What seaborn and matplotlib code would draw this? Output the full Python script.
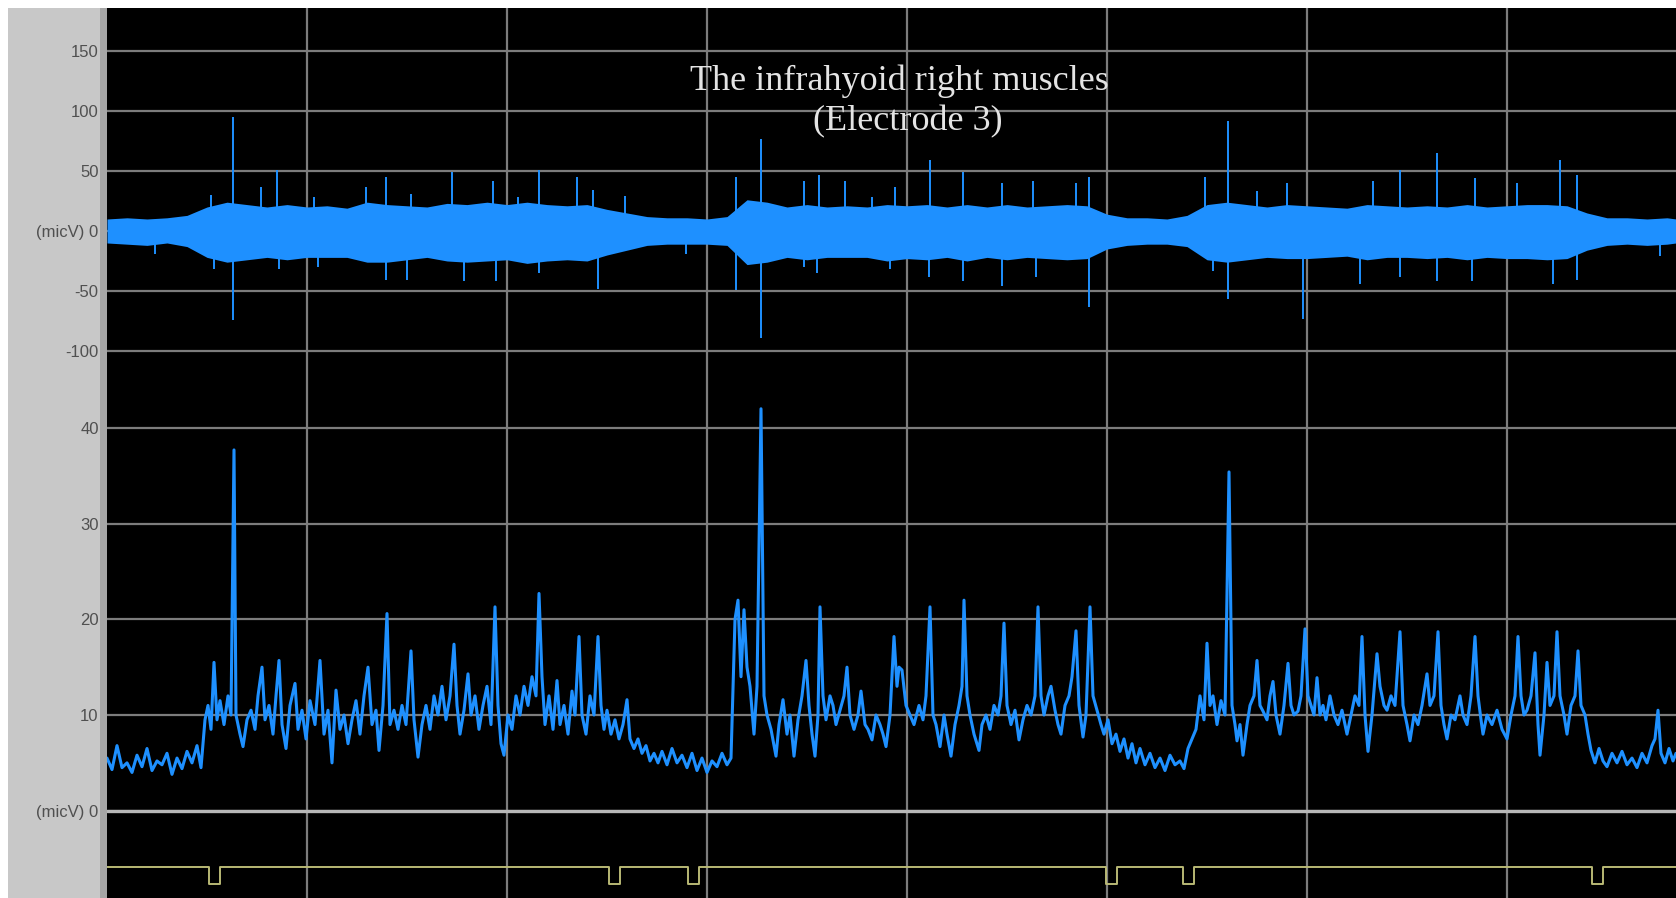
import numpy as np
import pandas as pd
import matplotlib
matplotlib.use("Agg")
import matplotlib.pyplot as plt
from matplotlib.patches import Rectangle
from matplotlib.ticker import MultipleLocator
import seaborn as sns

sns.set_style("dark")
plt.rcParams['font.family'] = ['Liberation Sans', 'DejaVu Sans']

# ---------------- data (time in ms, 200 ms per grid division) ----------------
title_lines = ["The infrahyoid right muscles", "(Electrode 3)"]

# raw EMG (upper panel): band envelope every 20 ms
raw_env_t = list(range(0, 1561, 20)) + [1569]
raw_env_hi = [10, 11, 10, 11, 13, 20, 24, 22, 20, 22,
              20, 21, 19, 24, 22, 21, 20, 23, 22, 24,
              22, 24, 22, 21, 22, 18, 15, 12, 11, 11,
              10, 12, 26, 24, 20, 22, 20, 21, 20, 22,
              21, 22, 20, 22, 20, 22, 20, 21, 22, 21,
              14, 11, 11, 10, 13, 22, 24, 22, 20, 22,
              21, 20, 19, 22, 21, 20, 21, 20, 22, 20,
              21, 22, 22, 21, 15, 11, 11, 10, 11, 10]
raw_env_lo = [-10, -11, -12, -10, -13, -22, -26, -24, -22, -24,
              -22, -22, -22, -26, -26, -24, -22, -25, -26, -25,
              -24, -27, -25, -24, -25, -20, -16, -12, -11, -11,
              -11, -12, -28, -26, -22, -24, -22, -22, -22, -25,
              -23, -24, -22, -25, -22, -24, -22, -23, -24, -23,
              -15, -12, -11, -11, -13, -24, -26, -24, -22, -23,
              -23, -22, -21, -24, -22, -22, -23, -22, -24, -22,
              -23, -23, -24, -23, -16, -12, -11, -12, -11, -10]

# raw EMG spikes: time, top, bottom
spike_t = [48, 104, 107, 126, 154, 170, 172, 207, 211, 259, 279, 300, 304, 345, 357,
           386, 389, 411, 432, 470, 486, 491, 518, 579, 629, 654, 697, 710, 712, 738,
           765, 783, 788, 822, 823, 856, 895, 926, 929, 969, 982, 1098, 1106, 1121,
           1150, 1180, 1196, 1253, 1266, 1293, 1330, 1365, 1368, 1410, 1446, 1453,
           1470, 1553]
spike_hi = [0, 30, 0, 95, 37, 51, 0, 28, 0, 37, 45, 0, 31, 49, 0,
            42, 0, 28, 51, 45, 34, 0, 29, 0, 45, 77, 42, 0, 47, 42,
            28, 0, 37, 0, 59, 49, 40, 42, 0, 40, 45, 45, 0, 92,
            33, 40, 0, 0, 42, 51, 65, 0, 44, 40, 0, 59,
            47, 0]
spike_lo = [-19, 0, -32, -74, 0, 0, -32, 0, -30, 0, -41, -41, 0, 0, -42,
            0, -42, 0, -35, 0, 0, -48, 0, -19, -49, -89, -30, -35, 0, 0,
            0, -32, 0, -38, 0, -42, -46, 0, -38, 0, -63, 0, -33, -57,
            0, 0, -73, -44, 0, -38, -42, -42, 0, 0, -44, 0,
            -41, -21]

# rectified / smoothed EMG (lower panel)
rect_t = [0, 5, 10, 15, 20, 25, 30, 35, 40, 45, 50, 55, 60, 65, 70, 75, 80, 85, 90, 94,
          98, 101, 104, 107, 110, 113, 117, 121, 124, 127, 129, 133, 136, 140, 144, 148,
          151, 155, 158, 162, 166, 169, 172, 175, 179, 183, 188, 191, 195, 199, 203, 208,
          213, 217, 221, 225, 229, 233, 237, 241, 245, 249, 253, 257, 261, 265, 269, 272,
          276, 280, 283, 287, 291, 295, 299, 304, 307, 311, 315, 319, 323, 327, 331, 335,
          339, 343, 347, 350, 353, 357, 361, 364, 368, 372, 376, 380, 384, 388, 391, 394,
          397, 401, 405, 409, 413, 417, 421, 425, 429, 432, 435, 438, 442, 446, 450, 453,
          457, 461, 465, 468, 472, 475, 479, 483, 487, 491, 494, 497, 500, 504, 508, 512,
          516, 520, 523, 527, 531, 535, 539, 543, 547, 551,
          555, 560, 565, 570, 575, 580, 585, 590, 595, 600, 605, 610, 615, 620, 624,
          628, 631, 634, 637, 640, 643, 647, 650, 654, 657, 660, 664, 669, 672, 676, 680,
          683, 687, 691, 695, 699, 702, 705, 708, 711, 713, 716, 719, 723, 726, 729, 733,
          737, 740, 743, 747, 751, 754, 758, 761, 765, 769, 773, 776, 779, 783, 787, 790,
          792, 795, 799, 803, 807, 812, 816, 819, 823, 826, 829, 833, 837, 840, 844, 848,
          852, 855, 857, 860, 863, 867, 872, 875, 879, 883, 887, 891, 894, 897, 900, 904,
          908, 912, 916, 920, 924, 928, 931, 934, 937, 941, 944, 948, 951, 954, 958, 962,
          965, 969, 972, 976, 979, 983, 986, 990, 994, 997, 1001, 1005, 1009, 1013, 1017,
          1021, 1025, 1029, 1033, 1038, 1043, 1048, 1053, 1058, 1063, 1068, 1073, 1077,
          1081, 1085, 1089,
          1093, 1097, 1100, 1103, 1106, 1110, 1114, 1118, 1122, 1125, 1128, 1130, 1133,
          1136, 1140, 1143, 1147, 1150, 1153, 1156, 1160, 1163, 1166, 1169, 1173, 1177,
          1181, 1184, 1187, 1191, 1194, 1198, 1201, 1204, 1207, 1210, 1213, 1216, 1219,
          1223, 1227, 1231, 1235, 1240, 1244, 1248, 1252, 1255, 1258, 1261, 1265, 1270,
          1273, 1277, 1280, 1284, 1288, 1293, 1296, 1300, 1303, 1307, 1311, 1315, 1320,
          1323, 1327, 1331, 1334, 1337, 1340, 1344, 1348, 1353, 1356, 1360, 1364, 1368,
          1371, 1374, 1376, 1380, 1385, 1390, 1395, 1400, 1404, 1408, 1411, 1414, 1417,
          1420, 1424, 1428, 1431, 1433, 1437, 1440, 1443, 1447, 1450, 1453, 1457, 1460,
          1464, 1468, 1471, 1474, 1478, 1481, 1484, 1488, 1492, 1496, 1500, 1505, 1510,
          1515, 1520, 1525, 1530, 1535, 1540, 1545, 1548, 1551, 1554, 1558, 1562, 1566,
          1569]
rect_v = [5.5, 4.3, 6.8, 4.5, 5.0, 4.0, 5.8, 4.6, 6.5, 4.2, 5.2, 4.8, 6.0, 3.8, 5.5, 4.4, 6.2, 5.0, 6.8, 4.5,
          9.5, 11, 8.5, 15.5, 9.5, 11.5, 9.0, 12.0, 10.0, 37.7, 10, 8.0, 6.7, 9.5, 10.5, 8.5,
          12, 15, 9.5, 11, 8.0, 12, 15.7, 9.0, 6.5, 11, 13.3, 8.5, 10.5, 7.5, 11.5, 9,
          15.7, 8, 10.5, 5.0, 12.6, 8.5, 10, 7, 9.5, 11.5, 8, 12, 15, 9, 10.5, 6.3,
          11, 20.6, 9, 10.5, 8.5, 11, 9, 16.7, 9.5, 5.6, 9, 11, 8.5, 12, 10, 13,
          9.5, 12, 17.4, 11, 8, 10.5, 14.3, 10, 12, 8.5, 11, 13, 9, 21.3, 11, 7,
          5.8, 10, 8.5, 12, 10, 13, 11, 14, 12, 22.7, 14, 9, 12, 8.5, 13.6, 9,
          11, 8, 12.5, 10, 18.2, 10, 8, 12, 10, 18.2, 11, 8.5, 10.5, 8, 9.5, 7.5,
          9, 11.6, 7.5, 6.5, 7.5, 6.0, 6.8, 5.2, 6.0, 5.0,
          6.2, 4.8, 6.5, 5.0, 5.8, 4.5, 6.0, 4.2, 5.5, 4.0, 5.2, 4.6, 6.0, 4.8, 5.5,
          20, 22, 14, 21, 15, 13, 8, 13, 42, 12, 10, 8.5, 5.7, 9, 11.6, 8,
          10, 5.7, 9.5, 12, 15.7, 11, 8, 5.7, 10, 21.3, 12, 9.5, 12, 11, 9, 10.5,
          12, 15, 10, 8.5, 10, 12.5, 9, 8.5, 7.4, 10, 9, 8, 6.7, 10, 18.2, 13,
          15, 14.7, 11, 10, 9, 11, 9.5, 12, 21.3, 10, 9, 6.7, 10, 8, 5.7, 9,
          11, 13, 22, 12, 10, 8, 6.3, 9, 10, 8.5, 11, 10, 12, 19.6, 11, 9,
          10.5, 7.4, 9.5, 11, 10, 12, 21.3, 12, 10, 12, 13, 10.5, 9, 8, 11, 12,
          14, 18.8, 11, 7.7, 10, 21.3, 12, 10.5, 9, 8, 9.5, 7, 8, 6.2, 7.5,
          5.5, 7, 5.0, 6.5, 4.8, 6.0, 4.5, 5.5, 4.2, 5.8, 4.8, 5.2, 4.4,
          6.5, 7.5, 8.5,
          12, 9.5, 17.5, 11, 12, 9, 11.5, 10, 35.4, 11, 9, 7.3, 9,
          5.8, 9, 11, 12, 15.7, 11, 10.4, 9.5, 12, 13.5, 10, 8, 11,
          15.4, 11, 10, 10.4, 12, 19, 12, 11, 10, 13.9, 10, 11, 9.5,
          12, 10, 9, 10.5, 8, 10, 12, 11, 18.2, 10, 6.2, 10, 16.4,
          13, 11, 10.5, 12, 11, 18.7, 11, 9, 7.3, 10, 9, 11, 14.3,
          11, 12, 18.7, 11, 9, 7.5, 10, 9.5, 12, 10, 9, 12, 18.2,
          12, 9.5, 8, 10, 9, 10.5, 8.5, 7.5, 10, 12, 18.2, 12, 10,
          10.5, 12, 16.5, 9, 5.8, 10, 15.5, 11, 12, 18.7, 12, 10, 8,
          11, 12, 16.7, 11, 10, 8, 6.3, 5.0, 6.5, 5.2, 4.6, 6.0, 5.0,
          6.2, 4.8, 5.5, 4.5, 6.0, 5.0, 6.8, 7.5, 10.5, 6.0, 5.0, 6.5, 5.2,
          6.0]

# event-marker channel: pulse start times (ms) and pulse width
marker_start = [102, 502, 581, 999, 1076, 1485]
marker_width = 11

top_ticks = [150, 100, 50, 0, -50, -100]
top_labels = ["150", "100", "50", "(micV) 0", "-50", "-100"]
bot_ticks = [40, 30, 20, 10, 0]
bot_labels = ["40", "30", "20", "10", "(micV) 0"]
time_grid = [200, 400, 600, 800, 1000, 1200, 1400]

# ---------------- figure ----------------
W, H = 1676, 898
fig = plt.figure(figsize=(W / 100, H / 100), dpi=100, facecolor="white")

def fx(px):
    return px / W

def fy(py):
    return 1 - py / H

# grey side strip with ruler
fig.add_artist(Rectangle((fx(8), 0), fx(107) - fx(8), fy(8), transform=fig.transFigure,
                         facecolor="#c8c8c8", edgecolor="none", zorder=-2))
fig.add_artist(Rectangle((fx(100), 0), fx(107) - fx(100), fy(8), transform=fig.transFigure,
                         facecolor="#a6a6a6", edgecolor="none", zorder=-1))

L = fx(107)
ax_top = fig.add_axes([L, fy(390), 1 - L, fy(8) - fy(390)])
ax_bot = fig.add_axes([L, fy(840), 1 - L, fy(390) - fy(840)])
ax_mk = fig.add_axes([L, 0, 1 - L, fy(840)])

XMAX = 1569
BLUE = "#1e90ff"
GRID = "#7c7c7c"

for ax in (ax_top, ax_bot, ax_mk):
    ax.set_facecolor("black")
    for s in ax.spines.values():
        s.set_visible(False)
    ax.set_xlim(0, XMAX)
    ax.set_xticks(time_grid)
    ax.tick_params(axis="x", length=0, labelbottom=False)
    ax.grid(True, axis="both", color=GRID, lw=1.6)
    ax.set_axisbelow(True)
    ax.set_xlabel("")
    ax.set_ylabel("")

# upper panel: raw EMG
ax_top.set_ylim(-132.5, 185.8)
ax_top.set_yticks(top_ticks)
ax_top.set_yticklabels(top_labels)
ax_top.yaxis.set_minor_locator(MultipleLocator(10))
ax_top.fill_between(raw_env_t, raw_env_lo, raw_env_hi, color=BLUE, lw=0, zorder=3)
ax_top.vlines(spike_t, spike_lo, spike_hi, color=BLUE, lw=1.4, zorder=3)

# lower panel: rectified EMG
ax_bot.set_ylim(-3.06, 43.96)
ax_bot.set_yticks(bot_ticks)
ax_bot.set_yticklabels(bot_labels)
ax_bot.yaxis.set_minor_locator(MultipleLocator(1))
ax_bot.axhline(0, color="#b8b8b8", lw=2.4, zorder=2)
rect_df = pd.DataFrame({"t": rect_t, "v": rect_v})
sns.lineplot(data=rect_df, x="t", y="v", ax=ax_bot, color=BLUE, lw=2.2,
             estimator=None, sort=False, zorder=3)
ax_bot.set_xlabel("")
ax_bot.set_ylabel("")

# marker channel
mk_t, mk_v = [0], [1]
for s in marker_start:
    mk_t += [s, s, s + marker_width, s + marker_width]
    mk_v += [1, 0, 0, 1]
mk_t.append(XMAX)
mk_v.append(1)
mk_df = pd.DataFrame({"t": mk_t, "v": mk_v})
ax_mk.set_ylim(-0.81, 2.54)
ax_mk.set_yticks([])
ax_mk.grid(True, axis="x", color=GRID, lw=1.6)
ax_mk.grid(False, axis="y")
sns.lineplot(data=mk_df, x="t", y="v", ax=ax_mk, color="#b9b975", lw=1.4,
             estimator=None, sort=False, zorder=3)
ax_mk.set_xlabel("")
ax_mk.set_ylabel("")

for ax in (ax_top, ax_bot):
    ax.tick_params(axis="y", which="major", direction="out", length=5, width=1.2,
                   color="#4a4a4a", pad=1, labelsize=12, labelcolor="#505050")
    ax.tick_params(axis="y", which="minor", direction="out", length=3, width=0.8,
                   color="#707070")
    ax.grid(False, which="minor")

# title
fig.text(fx(899), fy(90), title_lines[0], ha="center", va="baseline",
         fontsize=26, family="Liberation Serif", color="#e4e4e4")
fig.text(fx(908), fy(130), title_lines[1], ha="center", va="baseline",
         fontsize=26, family="Liberation Serif", color="#e4e4e4")

fig.savefig("out.png", dpi=100, facecolor="white")
